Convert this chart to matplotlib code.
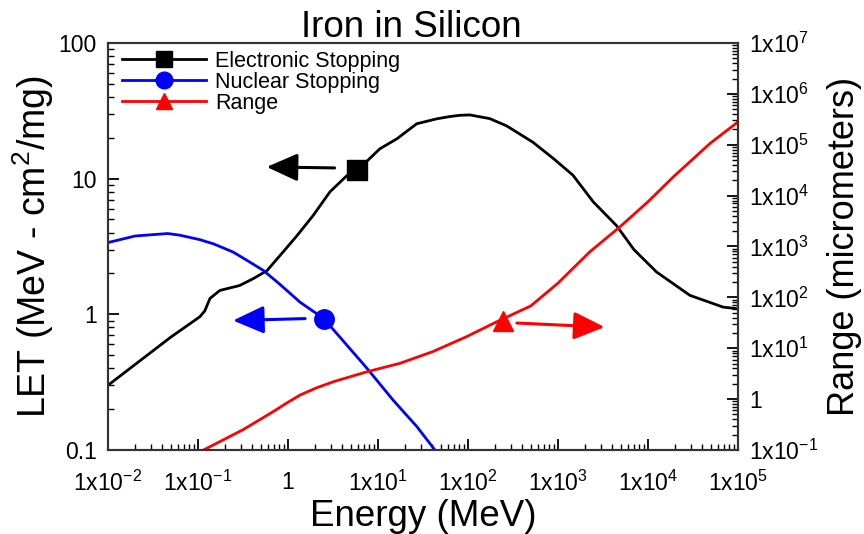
import matplotlib
matplotlib.use("Agg")
import matplotlib.pyplot as plt
from matplotlib.lines import Line2D
from matplotlib.ticker import LogLocator, NullFormatter

plt.rcParams['font.family'] = ['Liberation Sans', 'DejaVu Sans']
plt.rcParams['mathtext.default'] = 'regular'

# Electronic stopping power (MeV cm^2/mg) vs ion energy (MeV)
energy_elec = [0.01, 0.05, 0.105, 0.119, 0.136, 0.175, 0.29, 0.41, 0.585, 0.815,
               1.26, 1.9, 2.93, 4.5, 5.9, 10.5, 16.3, 27, 45, 63, 81, 105, 175,
               269, 525, 900, 1470, 2470, 4490, 7000, 12500, 29300, 68700, 100000]
let_elec = [0.30, 0.68, 0.96, 1.06, 1.31, 1.5, 1.63, 1.83, 2.1, 2.71,
            3.8, 5.34, 8.0, 10.5, 11.5, 16.6, 19.7, 25.4, 27.6, 28.7, 29.3, 29.5, 27.7,
            24.5, 18.6, 14.0, 10.6, 6.75, 4.5, 3.0, 2.05, 1.38, 1.13, 1.10]

# Nuclear stopping power (MeV cm^2/mg)
energy_nucl = [0.01, 0.02, 0.046, 0.063, 0.105, 0.15, 0.245, 0.35, 0.53, 0.8,
               1.36, 2.5, 4.0, 7.55, 15, 27, 43]
let_nucl = [3.38, 3.78, 3.94, 3.83, 3.55, 3.3, 2.88, 2.5, 2.11, 1.68,
            1.23, 0.93, 0.65, 0.4, 0.23, 0.149, 0.1]

# Projected range (micrometers)
energy_range = [0.115, 0.2, 0.316, 0.687, 0.97, 1.36, 2.08, 3.2, 7.55, 17.5, 40.8,
                96.6, 208, 500, 1000, 2270, 4900, 10000, 19000, 49000, 100000]
range_um = [0.1, 0.165, 0.25, 0.57, 0.84, 1.2, 1.67, 2.2, 3.45, 5.05, 8.6,
            16.9, 33, 68, 190, 790, 2440, 7550, 23000, 106000, 280000]

# Single symbols placed on each curve
elec_mark = (5.9, 11.5)
nucl_mark = (2.5, 0.93)
range_mark = (245, 35)

# Arrows pointing toward the axis each curve is read from: (tail, head)
elec_arrow = ((3.3, 12.0), (0.58, 12.2))
nucl_arrow = ((1.55, 0.93), (0.245, 0.90))
range_arrow = ((350, 31.3), (3300, 26.0))

x_ticks = [1e-2, 1e-1, 1, 1e1, 1e2, 1e3, 1e4, 1e5]
x_labels = ['1x10$^{-2}$', '1x10$^{-1}$', '1', '1x10$^{1}$', '1x10$^{2}$',
            '1x10$^{3}$', '1x10$^{4}$', '1x10$^{5}$']
y_ticks = [0.1, 1, 10, 100]
y_labels = ['0.1', '1', '10', '100']
r_ticks = [1e-1, 1, 1e1, 1e2, 1e3, 1e4, 1e5, 1e6, 1e7]
r_labels = ['1x10$^{-1}$', '1', '1x10$^{1}$', '1x10$^{2}$', '1x10$^{3}$',
            '1x10$^{4}$', '1x10$^{5}$', '1x10$^{6}$', '1x10$^{7}$']

fig = plt.figure(figsize=(8.64, 5.34), dpi=100)
ax = fig.add_axes([0.125, 0.1573, 0.729, 0.7622])
ax2 = ax.twinx()

lw = 2.0
ax.plot(energy_elec, let_elec, color='black', lw=lw, solid_capstyle='round',
        solid_joinstyle='round')
ax.plot(energy_nucl, let_nucl, color='blue', lw=lw, solid_capstyle='round',
        solid_joinstyle='round')
ax2.plot(energy_range, range_um, color='red', lw=lw, solid_capstyle='round',
         solid_joinstyle='round')

ax.plot(*elec_mark, marker='s', ms=15, color='black', ls='none')
ax.plot(*nucl_mark, marker='o', ms=14, color='blue', ls='none')
ax2.plot(*range_mark, marker='^', ms=14, color='red', ls='none')

arrow_style = '-|>,head_length=19,head_width=8.5'
for axis, (tail, head), col in [(ax, elec_arrow, 'black'), (ax, nucl_arrow, 'blue'),
                                (ax2, range_arrow, 'red')]:
    axis.annotate('', xy=head, xytext=tail,
                  arrowprops=dict(arrowstyle=arrow_style, color=col, lw=2.2,
                                  mutation_scale=1, shrinkA=0, shrinkB=0))

ax.set_xscale('log')
ax.set_yscale('log')
ax2.set_yscale('log')
ax.set_xlim(1e-2, 1e5)
ax.set_ylim(0.1, 100)
ax2.set_ylim(0.1, 1e7)

fs_tick = 16.5
ax.set_xticks(x_ticks, x_labels)
ax.set_yticks(y_ticks, y_labels)
ax2.set_yticks(r_ticks, r_labels)
minor = dict(base=10, subs=range(2, 10), numticks=100)
ax.xaxis.set_minor_locator(LogLocator(**minor))
ax.yaxis.set_minor_locator(LogLocator(**minor))
ax2.yaxis.set_minor_locator(LogLocator(**minor))
for a in (ax.xaxis, ax.yaxis, ax2.yaxis):
    a.set_minor_formatter(NullFormatter())

ax.tick_params(which='major', direction='in', length=8, width=1.3,
               labelsize=fs_tick, pad=8)
ax.tick_params(axis='x', which='major', pad=15)
ax.tick_params(which='minor', direction='in', length=4, width=1.0)
ax2.tick_params(which='major', direction='in', length=8, width=1.3,
                labelsize=fs_tick, pad=8)
ax2.tick_params(which='minor', direction='in', length=4, width=1.0)

for a in (ax, ax2):
    for s in a.spines.values():
        s.set_linewidth(1.5)
        s.set_color('#333333')

ax.set_xlabel('Energy (MeV)', fontsize=26.5, labelpad=2)
ax.set_ylabel('LET (MeV - cm$^2$/mg)', fontsize=27, labelpad=2)
ax2.set_ylabel('Range (micrometers)', fontsize=26, labelpad=6)
fig.text(0.476, 0.9307, 'Iron in Silicon', fontsize=26.5, ha='center', va='baseline')

handles = [
    Line2D([], [], color='black', lw=lw, marker='s', ms=12),
    Line2D([], [], color='blue', lw=lw, marker='o', ms=12),
    Line2D([], [], color='red', lw=lw, marker='^', ms=12),
]
ax2.legend(handles, ['Electronic Stopping', 'Nuclear Stopping', 'Range'],
           loc='upper left', bbox_to_anchor=(0.01, 1.0), frameon=False,
           fontsize=15.5, handlelength=3.9, handletextpad=0.45,
           labelspacing=0.0, borderaxespad=0.2, borderpad=0.15)

fig.savefig('out.png', dpi=100)
